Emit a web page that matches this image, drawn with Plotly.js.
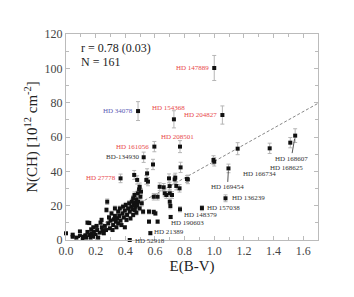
<!DOCTYPE html>
<html><head><meta charset="utf-8">
<script src="https://cdn.plot.ly/plotly-3.0.1.min.js"></script>
<style>html,body{margin:0;padding:0;background:#fff}#chart{width:354px;height:297px}</style>
</head><body><div id="chart"></div>
<script>
// E(B-V) values
var ebv = [0.0,0.045,0.045,0.07,0.094,0.094,0.11,0.12,0.13,0.135,0.145,0.145,0.157,0.157,0.166,0.17,0.172,0.18,0.184,0.188,
0.195,0.2,0.206,0.21,0.217,0.228,0.233,0.24,0.242,0.246,0.255,0.262,0.27,0.273,0.278,0.285,0.29,0.296,0.3,0.307,
0.314,0.318,0.323,0.33,0.33,0.336,0.34,0.345,0.352,0.352,0.359,0.363,0.368,0.374,0.381,0.385,0.39,0.397,0.397,0.403,
0.408,0.412,0.419,0.426,0.43,0.435,0.441,0.444,0.448,0.453,0.453,0.457,0.462,0.464,0.466,0.47,0.475,0.475,0.48,0.484,
0.486,0.493,0.497,0.502,0.506,0.511,0.52,
0.46,0.48,0.497,0.542,0.553,0.547,0.587,0.618,0.592,0.592,0.618,0.632,0.659,0.677,0.704,0.695,0.699,0.733,0.744,0.773,
0.822,0.666,0.715,0.766,0.7,0.56,0.56,0.603,0.737,0.7,
1.0,0.486,0.728,1.055,0.769,0.596,0.524,0.368,0.43,0.569,0.706,0.769,0.917,1.076,1.096,1.374,1.513,1.546,
1.158,0.995,1.0,0.816];
// N(CH) values [10^12 cm^-2]
var nch = [3.9,1.9,3.1,1.4,5.0,2.3,1.0,1.9,2.7,1.4,4.7,10.1,9.9,2.9,1.4,6.2,3.9,2.3,7.4,4.7,
1.9,3.1,8.2,5.8,1.4,4.3,10.1,11.7,7.4,5.4,3.9,8.2,5.8,17.5,22.3,9.7,13.2,6.8,11.3,15.5,
5.8,8.7,12,14,18.4,10.7,7.4,12.6,9.7,16.5,14,18.4,11.3,8.7,15.5,19.4,13.2,7.4,17.1,20.4,
11.7,14.6,18.4,21.4,16.5,12.6,19.4,22.3,17.9,24.3,14.6,20.4,26.2,17.5,21.7,19.4,23.7,15.9,20.4,27.2,
22.3,29.5,18.4,25.2,28.2,21.4,16.5,
37.9,35,31,35,34,38.8,44,10.7,16.3,25.2,25.2,31,30.7,26.2,19.8,35.9,31.4,35.3,31.5,42.3,
35.3,27.2,26.2,30.1,22.3,10.7,16.5,15.5,36.3,27.2,
100.2,75.1,70.3,72.8,54.4,54.4,48.2,35.9,0,4,13.4,17.9,18.6,24.3,41.7,53.4,56.7,60.8,
53.2,46.6,45.6,35.5];
// N(CH) uncertainties
var nchErr = [0.6,0.5,0.5,0.5,0.6,0.5,0.5,0.5,0.5,0.5,0.6,1,1,0.5,0.5,0.8,0.6,0.5,0.8,0.6,
0.5,0.5,0.9,0.7,0.5,0.6,1,1.1,0.8,0.7,0.6,0.9,0.7,1.4,1.6,1,1.2,0.8,1.1,1.3,
0.7,0.9,1.1,1.2,1.4,1,0.8,1.1,1,1.3,1.2,1.4,1.1,0.9,1.3,1.4,1.2,0.8,1.4,1.5,
1.1,1.2,1.4,1.5,1.3,1.1,1.4,1.6,1.4,1.7,1.2,1.5,1.8,1.4,1.6,1.5,1.7,1.3,1.5,1.8,
1.6,2,1.4,1.8,1.9,1.6,1.3,
2.6,2.4,2.2,2.5,2.4,2.7,3,1,1.3,1.9,1.9,2.3,2.2,2,1.6,2.6,2.3,2.6,2.3,3,
2.5,2,2,2.2,1.7,1,1.3,1.2,2.6,2,
7.3,5.5,5,5.3,3.5,3,3,2.5,0.5,1,1,1.5,1.5,2,2.5,3,3,4,
3.5,2.5,2.5,2];
// labelled stars
var labelNames = ["HD 147889","HD 34078","HD 154368","HD 204827","HD 208501","HD 161056","BD-134930","HD 27778",
"HD 52918","HD 21389","HD 190603","HD 148379","HD 157038","HD 136239","HD 169454","HD 166734","HD 168625","HD 168607"];
var labelX = [1.0,0.486,0.728,1.055,0.769,0.596,0.524,0.368,0.43,0.569,0.706,0.769,0.917,1.076,1.096,1.374,1.513,1.546];
var labelY = [100.2,75.1,70.3,72.8,54.4,54.4,48.2,35.9,0,4,13.4,17.9,18.6,24.3,41.7,53.4,56.7,60.8];
// fit line
var fitX = [0.0, 1.7];
var fitY = [-2.5, 79.6];
var statText = ["r = 0.78 (0.03)", "N = 161"];

var RED = "#e8474a", BLUE = "#5a5ab4", DARK = "#333";
// placement: [color, xanchor, xshift, yshift, arrow(ax,ay) or null]
var place = [
 [RED,"right",-3,0,null],[BLUE,"right",-3,0,null],[RED,"center",-5,11,null],[RED,"right",-3,0,null],
 [RED,"center",-2,10,null],[RED,"right",-3,0,null],[DARK,"right",-2,0,null],[RED,"right",-3,0,null],
 [DARK,"left",3,-0.5,null],[DARK,"left",2,1.5,null],[DARK,"left",-2,-6,null],[DARK,"left",2,-5.5,null],
 [DARK,"left",3,0,null],[DARK,"left",4,0,null],[DARK,"center",0,0,[-1,19]],[DARK,"center",-10,-26,null],
 [DARK,"center",-4,-25,null],[DARK,"center",0,0,[-4,23]]
];
var ann = [];
for (var i=0;i<labelNames.length;i++){
  var p = place[i];
  var a = {x:labelX[i], y:labelY[i], xref:"x", yref:"y", text:labelNames[i],
    font:{family:"Liberation Serif", size:7, color:p[0]}};
  if (p[4]) {
    a.showarrow = true; a.arrowhead = 0; a.arrowwidth = 1; a.arrowcolor = "#555";
    a.ax = p[4][0]; a.ay = p[4][1]; a.standoff = 3;
  } else {
    a.showarrow = false; a.xanchor = p[1]; a.yanchor = "middle"; a.xshift = p[2]; a.yshift = p[3];
  }
  ann.push(a);
}
ann.push({xref:"paper", yref:"paper", x:0.052, y:0.932, xanchor:"left", yanchor:"middle", showarrow:false,
  text:statText[0], font:{family:"Liberation Serif", size:12, color:"#222"}});
ann.push({xref:"paper", yref:"paper", x:0.052, y:0.864, xanchor:"left", yanchor:"middle", showarrow:false,
  text:statText[1], font:{family:"Liberation Serif", size:12, color:"#222"}});

var traces = [
 {x:fitX, y:fitY, mode:"lines", line:{color:"#888", width:1, dash:"3px,2px"}, hoverinfo:"skip", showlegend:false},
 {x:ebv, y:nch, mode:"markers", type:"scatter", cliponaxis:false,
  marker:{symbol:"square", size:4, color:"#111"},
  error_y:{type:"data", array:nchErr, visible:true, color:"#b5b5b5", thickness:1, width:2},
  showlegend:false}
];
var axFont = {family:"Liberation Serif", size:12, color:"#444"};
var layout = {
  width:354, height:297, margin:{l:66, r:36, t:34, b:57},
  paper_bgcolor:"#fff", plot_bgcolor:"#fff", showlegend:false,
  font:{family:"Liberation Serif"},
  xaxis:{range:[0,1.7], dtick:0.2, tick0:0, tickformat:".1f", ticks:"inside", ticklen:4, tickcolor:"#bbb",
    showline:true, linecolor:"#bbb", linewidth:1, mirror:"allticks", showgrid:false, zeroline:false,
    tickfont:axFont, minor:{dtick:0.1, ticks:"inside", ticklen:3, tickcolor:"#bbb", showgrid:false},
    title:{text:"E(B-V)", font:{family:"Liberation Serif", size:15, color:"#222"}, standoff:2}},
  yaxis:{range:[0,120], dtick:20, ticks:"inside", ticklen:4, tickcolor:"#bbb",
    showline:true, linecolor:"#bbb", linewidth:1, mirror:"allticks", showgrid:false, zeroline:false,
    tickfont:axFont, minor:{dtick:10, ticks:"inside", ticklen:3, tickcolor:"#bbb", showgrid:false},
    title:{text:"N(CH) [10<sup>12</sup> cm<sup>-2</sup>]", font:{family:"Liberation Serif", size:15, color:"#222"}, standoff:3}},
  annotations:ann
};
Plotly.newPlot("chart", traces, layout, {staticPlot:true, displayModeBar:false});
</script></body></html>
